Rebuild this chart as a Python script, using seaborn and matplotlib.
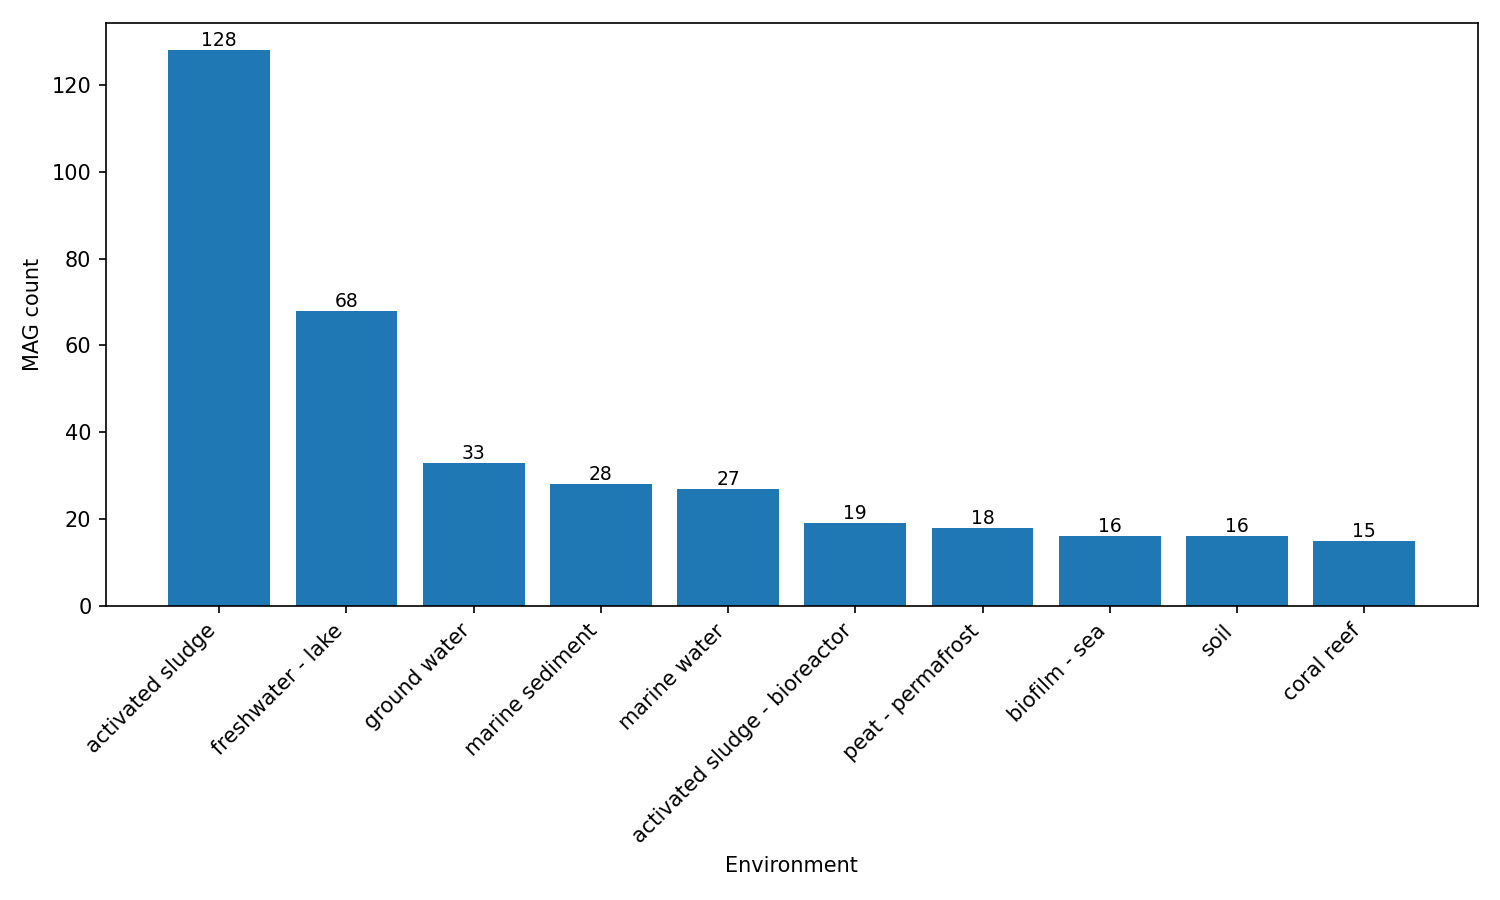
import pandas as pd
import matplotlib
matplotlib.use("Agg")
import matplotlib.pyplot as plt
import seaborn as sns

environments = [
    "activated sludge",
    "freshwater - lake",
    "ground water",
    "marine sediment",
    "marine water",
    "activated sludge - bioreactor",
    "peat - permafrost",
    "biofilm - sea",
    "soil",
    "coral reef",
]
mag_counts = [128, 68, 33, 28, 27, 19, 18, 16, 16, 15]

df = pd.DataFrame({"Environment": environments, "MAG count": mag_counts})

fig, ax = plt.subplots(figsize=(10, 6))
sns.barplot(data=df, x="Environment", y="MAG count", color="#1f77b4",
            saturation=1, width=0.8, ax=ax)

# label each bar with its count
for container in ax.containers:
    ax.bar_label(container, fontsize=9)

n = len(environments)
pad = 0.05 * (n - 1 + 0.8)
ax.set_xlim(-0.4 - pad, n - 1 + 0.4 + pad)
ax.set_ylim(0, max(mag_counts) * 1.05)

plt.xticks(rotation=45, ha="right")
ax.set_xlabel("Environment")
ax.set_ylabel("MAG count")
plt.tight_layout()

plt.savefig("out.png", dpi=150)
